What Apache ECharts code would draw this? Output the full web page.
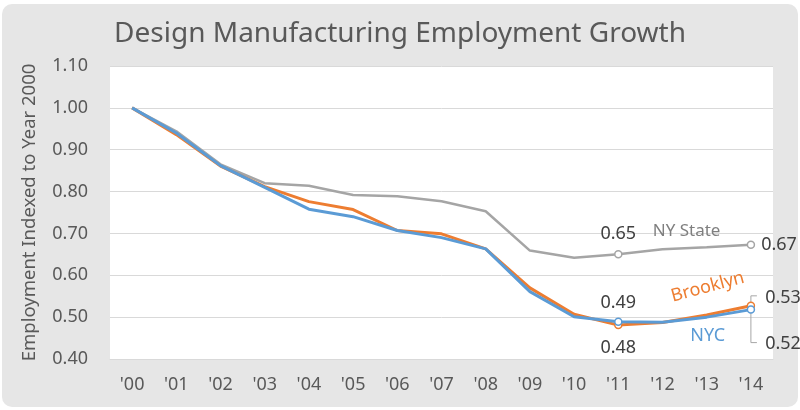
<!DOCTYPE html>
<html><head><meta charset="utf-8">
<script src="https://cdn.jsdelivr.net/npm/echarts@6/dist/echarts.min.js"></script>
<style>html,body{margin:0;padding:0;background:#fff}#c{width:800px;height:410px}</style>
</head><body><div id="c"></div>
<script>
const categories = ["'00","'01","'02","'03","'04","'05","'06","'07","'08","'09","'10","'11","'12","'13","'14"];
const nyState  = [1.00,0.944,0.865,0.820,0.814,0.792,0.789,0.777,0.753,0.659,0.642,0.650,0.662,0.667,0.673];
const brooklyn = [1.00,0.936,0.861,0.812,0.776,0.757,0.707,0.699,0.663,0.570,0.507,0.481,0.487,0.505,0.527];
const nyc      = [1.00,0.940,0.862,0.810,0.758,0.740,0.707,0.690,0.663,0.561,0.501,0.489,0.488,0.500,0.518];
const yTicks = [0.40,0.50,0.60,0.70,0.80,0.90,1.00,1.10];
const title = 'Design Manufacturing Employment Growth';
const yName = 'Employment Indexed to Year 2000';

const FONT = 'Noto Sans';
const TXT = '#595959';
const C = {gray:'#a5a5a5', orange:'#ed7d31', blue:'#5b9bd5'};

function mk(arr, color, labels) {
  return arr.map((v, i) => {
    const lab = labels[i];
    if (!lab) return {value: v, symbol: 'none'};
    return {
      value: v, symbol: 'circle', symbolSize: 7,
      itemStyle: {color: '#fff', borderColor: color, borderWidth: 1.5},
      label: Object.assign({show: true, formatter: p => p.value.toFixed(2),
        fontFamily: FONT, fontSize: 18, color: '#404040'}, lab)
    };
  });
}
const last = categories.length - 1;
const lblState = {}; lblState[11] = {position: 'top', distance: 7}; lblState[last] = {position: 'right', distance: 6};
const lblBk = {}; lblBk[11] = {position: 'bottom', distance: 10}; lblBk[last] = {position: 'right', distance: 10, offset:[0,-8]};
const lblNyc = {}; lblNyc[11] = {position: 'top', distance: 6}; lblNyc[last] = {position: 'right', distance: 10, offset:[0,34]};

const chart = echarts.init(document.getElementById('c'), null, {renderer: 'canvas'});
chart.setOption({
  animation: false,
  title: {text: title, left: 'center', top: 15, textStyle: {fontFamily: FONT, fontSize: 28, fontWeight: 'normal', color: TXT}},
  grid: {left: 110, right: 27, top: 66, bottom: 51, show: true, backgroundColor: '#fff', borderWidth: 0},
  xAxis: {
    type: 'category', data: categories, boundaryGap: true,
    axisLine: {lineStyle: {color: '#d9d9d9', width: 1}},
    axisTick: {inside: true, length: 5, lineStyle: {color: '#d9d9d9'}},
    axisLabel: {fontFamily: FONT, fontSize: 18, color: TXT, margin: 17}
  },
  yAxis: {
    type: 'value', min: 0.4, max: 1.1, interval: 0.1,
    name: yName, nameLocation: 'middle', nameGap: 71,
    nameTextStyle: {fontFamily: FONT, fontSize: 18.5, color: TXT},
    axisLine: {show: false}, axisTick: {show: false},
    splitLine: {lineStyle: {color: '#d9d9d9', width: 1}},
    axisLabel: {fontFamily: FONT, fontSize: 18, color: TXT, margin: 22, formatter: v => yTicks.find(t => Math.abs(t - v) < 1e-6).toFixed(2)}
  },
  series: [
    {name: 'NY State', type: 'line', data: mk(nyState, C.gray, lblState), lineStyle: {color: C.gray, width: 2.5}, itemStyle: {color: C.gray}, showAllSymbol: true, z: 2},
    {name: 'Brooklyn', type: 'line', data: mk(brooklyn, C.orange, lblBk), lineStyle: {color: C.orange, width: 3}, itemStyle: {color: C.orange}, showAllSymbol: true, z: 3},
    {name: 'NYC', type: 'line', data: mk(nyc, C.blue, lblNyc), lineStyle: {color: C.blue, width: 3}, itemStyle: {color: C.blue}, showAllSymbol: true, z: 4}
  ]
});

function px(i, v) { return chart.convertToPixel({gridIndex: 0}, [i, v]); }
const p12 = px(12, nyState[12]), p13 = px(13, nyState[13]);
const midX = (p12[0] + p13[0]) / 2;
const pS = [midX + 2, (p12[1] + p13[1]) / 2];
const pB = px(13, brooklyn[13]);
const pN = px(13, nyc[13]);
const pBk14 = px(last, brooklyn[last]);
const pN14 = px(last, nyc[last]);
chart.setOption({
  graphic: [
    {type: 'rect', z: -100, silent: true, shape: {x: 2, y: 4, width: 796, height: 403, r: 10}, style: {fill: '#e6e6e6'}},
    {type: 'text', x: pS[0], y: pS[1] - 17, style: {text: 'NY State', fontFamily: FONT, fontSize: 17, fill: '#7f7f7f', align: 'center', verticalAlign: 'middle'}},
    {type: 'text', x: pB[0] + 1, y: pB[1] - 28, rotation: 15 * Math.PI / 180, style: {text: 'Brooklyn', fontFamily: FONT, fontSize: 18, fill: C.orange, align: 'center', verticalAlign: 'middle'}},
    {type: 'text', x: pN[0] + 1, y: pN[1] + 19, style: {text: 'NYC', fontFamily: FONT, fontSize: 18, fill: C.blue, align: 'center', verticalAlign: 'middle'}},
    {type: 'polyline', shape: {points: [[pBk14[0], pBk14[1] - 3], [pBk14[0], pBk14[1] - 10], [pBk14[0] + 6, pBk14[1] - 10]]}, style: {stroke: '#a6a6a6', lineWidth: 1, fill: null}},
    {type: 'polyline', shape: {points: [[pN14[0], pN14[1] + 3], [pN14[0], pN14[1] + 33], [pN14[0] + 6, pN14[1] + 33]]}, style: {stroke: '#a6a6a6', lineWidth: 1, fill: null}}
  ]
});
</script></body></html>
